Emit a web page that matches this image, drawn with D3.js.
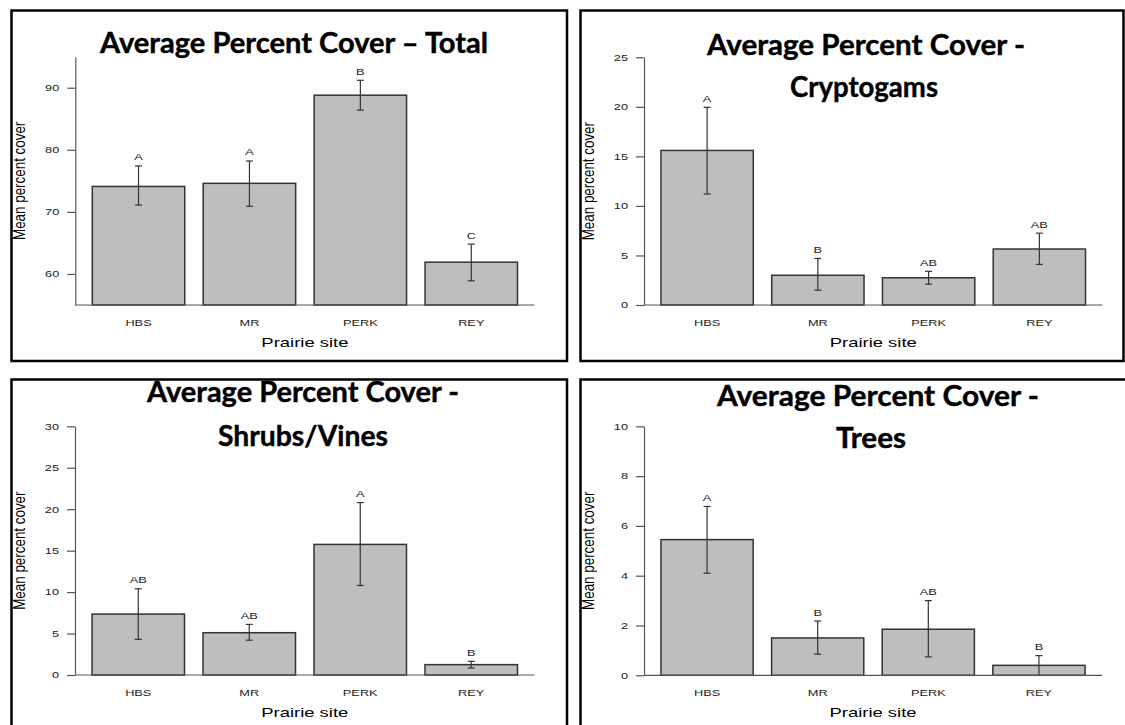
<!DOCTYPE html>
<html><head><meta charset="utf-8">
<script src="https://cdn.jsdelivr.net/npm/d3@7"></script>
<style>
body{margin:0;background:#fff;}
svg{display:block;}
</style></head><body>
<svg id="chart" width="1125" height="725"></svg>
<script>
// ---------------- DATA ----------------
const sites = ["HBS", "MR", "PERK", "REY"];

const totalMean    = [74.1, 74.6, 88.8, 61.9];
const totalUpper   = [77.4, 78.2, 91.2, 64.8];
const totalLower   = [71.1, 70.9, 86.4, 58.9];
const totalLetters = ["A", "A", "B", "C"];
const totalTicks   = [60, 70, 80, 90];

const cryptoMean    = [15.6, 3.0, 2.75, 5.65];
const cryptoUpper   = [19.95, 4.7, 3.4, 7.25];
const cryptoLower   = [11.2, 1.5, 2.1, 4.1];
const cryptoLetters = ["A", "B", "AB", "AB"];
const cryptoTicks   = [0, 5, 10, 15, 20, 25];

const shrubMean    = [7.35, 5.1, 15.75, 1.25];
const shrubUpper   = [10.4, 6.1, 20.8, 1.65];
const shrubLower   = [4.3, 4.2, 10.8, 0.85];
const shrubLetters = ["AB", "AB", "A", "B"];
const shrubTicks   = [0, 5, 10, 15, 20, 25, 30];

const treeMean    = [5.45, 1.5, 1.85, 0.4];
const treeUpper   = [6.78, 2.18, 3.0, 0.79];
const treeLower   = [4.1, 0.85, 0.74, 0.0];
const treeLetters = ["A", "B", "AB", "B"];
const treeTicks   = [0, 2, 4, 6, 8, 10];

const yAxisTitle = "Mean percent cover";
const xAxisTitle = "Prairie site";

const totalTitle  = ["Average Percent Cover \u2013 Total"];
const cryptoTitle = ["Average Percent Cover -", "Cryptogams"];
const shrubTitle  = ["Average Percent Cover -", "Shrubs/Vines"];
const treeTitle   = ["Average Percent Cover -", "Trees"];

// ---------------- LAYOUT ----------------
const S = 1.42;      // horizontal stretch of the R graphics text
const SY = 1.25;     // stretch for rotated y title
const panels = [
  { title: totalTitle, mean: totalMean, upper: totalUpper, lower: totalLower, letters: totalLetters, ticks: totalTicks,
    yDomain: [55, 95], frame: [11.5, 10.5, 567, 361], plot: [75.3, 534.5, 56.7, 305],
    titlePos: [[294, 53, 388]], yTitleX: 24.6 },
  { title: cryptoTitle, mean: cryptoMean, upper: cryptoUpper, lower: cryptoLower, letters: cryptoLetters, ticks: cryptoTicks,
    yDomain: [0, 25], frame: [580.5, 10.5, 1123.5, 361], plot: [644, 1102.5, 57.3, 305],
    titlePos: [[866, 55, 318], [864, 97, 148]], yTitleX: 593.6 },
  { title: shrubTitle, mean: shrubMean, upper: shrubUpper, lower: shrubLower, letters: shrubLetters, ticks: shrubTicks,
    yDomain: [0, 30], frame: [11.5, 379.5, 567, 740], plot: [75, 534.5, 426.3, 675],
    titlePos: [[303, 401.5, 312], [303, 445.5, 170]], yTitleX: 24.6 },
  { title: treeTitle, mean: treeMean, upper: treeUpper, lower: treeLower, letters: treeLetters, ticks: treeTicks,
    yDomain: [0, 10], frame: [580.5, 379.5, 1140, 740], plot: [644, 1102, 426.3, 675.3],
    titlePos: [[878, 405.5, 322], [871, 448, 70]], yTitleX: 593.6 }
];

const svg = d3.select("#chart");
const FONT = "'Liberation Sans', Arial, sans-serif";

panels.forEach(p => {
  const g = svg.append("g");
  const [fx0, fy0, fx1, fy1] = p.frame;
  const [L, R, T, B] = p.plot;

  // frame
  g.append("rect").attr("x", fx0).attr("y", fy0).attr("width", fx1 - fx0).attr("height", fy1 - fy0)
    .attr("fill", "none").attr("stroke", "#000").attr("stroke-width", 2.5);

  // scales (R barplot: bars at 0.2..4.8 units, plot region 0.016..4.984)
  const xu = d3.scaleLinear().domain([0.016, 4.984]).range([L, R]);
  const x = d3.scaleBand().domain(sites).range([xu(0), xu(5)]).paddingInner(1/6).paddingOuter(1/6);
  const y = d3.scaleLinear().domain(p.yDomain).range([B, T]);

  const data = sites.map((s, i) => ({ site: s, mean: p.mean[i], up: p.upper[i], lo: p.lower[i], letter: p.letters[i] }));

  // bars
  g.selectAll("rect.bar").data(data).join("rect").attr("class", "bar")
    .attr("x", d => x(d.site)).attr("width", x.bandwidth())
    .attr("y", d => y(d.mean)).attr("height", d => y(p.yDomain[0]) - y(d.mean))
    .attr("fill", "#bebebe").attr("stroke", "#333").attr("stroke-width", 1.5);

  // error bars
  const eb = g.selectAll("g.err").data(data).join("g").attr("class", "err")
    .attr("transform", d => `translate(${x(d.site) + x.bandwidth() / 2},0)`);
  eb.append("line").attr("x1", 0).attr("x2", 0).attr("y1", d => y(d.up)).attr("y2", d => y(d.lo))
    .attr("stroke", "#333").attr("stroke-width", 1.2);
  eb.append("line").attr("x1", -3.5).attr("x2", 3.5).attr("y1", d => y(d.up)).attr("y2", d => y(d.up))
    .attr("stroke", "#333").attr("stroke-width", 1.2);
  eb.filter(d => d.lo > p.yDomain[0]).append("line").attr("x1", -3.5).attr("x2", 3.5)
    .attr("y1", d => y(d.lo)).attr("y2", d => y(d.lo))
    .attr("stroke", "#333").attr("stroke-width", 1.2);

  // significance letters
  g.selectAll("text.letter").data(data).join("text").attr("class", "letter")
    .attr("transform", d => `translate(${x(d.site) + x.bandwidth() / 2},${y(d.up) - 5.5}) scale(${S},1)`)
    .attr("text-anchor", "middle").attr("font-family", FONT).attr("font-size", 9).attr("fill", "#222")
    .text(d => d.letter);

  // y axis
  const yAxis = d3.axisLeft(y).tickValues(p.ticks).tickSize(8).tickSizeOuter(0).tickPadding(8);
  g.append("g").attr("transform", `translate(${L},0)`).call(yAxis)
    .call(a => a.select(".domain").attr("stroke", "#555").attr("stroke-width", 1.2))
    .call(a => a.selectAll(".tick line").attr("stroke", "#555").attr("stroke-width", 1.2))
    .call(a => a.selectAll(".tick text").attr("x", -16 / S).attr("transform", `scale(${S},1)`)
      .attr("fill", "#222").attr("font-family", FONT).attr("font-size", 9));

  // x axis baseline (box "l")
  g.append("line").attr("x1", L).attr("x2", R).attr("y1", B).attr("y2", B)
    .attr("stroke", "#555").attr("stroke-width", 1.2);

  // x axis category labels
  const xAxis = d3.axisBottom(x).tickSize(0).tickPadding(14.6);
  g.append("g").attr("transform", `translate(0,${B})`).call(xAxis)
    .call(a => a.select(".domain").remove())
    .call(a => a.selectAll(".tick text").attr("transform", `scale(${S},1)`)
      .attr("fill", "#222").attr("font-family", FONT).attr("font-size", 9));

  // axis titles
  g.append("text")
    .attr("transform", `translate(${(L + R) / 2},${B + 42}) scale(${S},1)`)
    .attr("text-anchor", "middle").attr("font-family", FONT).attr("font-size", 13).attr("fill", "#000")
    .text(xAxisTitle);
  g.append("text")
    .attr("transform", `translate(${p.yTitleX},${(T + B) / 2}) scale(${SY},1) rotate(-90)`)
    .attr("text-anchor", "middle").attr("font-family", FONT).attr("font-size", 13.4).attr("fill", "#000")
    .text(yAxisTitle);

  // chart title (Calibri-like bold)
  p.title.forEach((line, i) => {
    const [tx, ty, tw] = p.titlePos[i];
    g.append("text").attr("x", tx).attr("y", ty)
      .attr("text-anchor", "middle").attr("font-family", "Lato, 'Open Sans', sans-serif")
      .attr("font-weight", 700).attr("font-size", 28).attr("fill", "#000")
      .attr("stroke", "#000").attr("stroke-width", 0.4)
      .attr("textLength", tw).attr("lengthAdjust", "spacingAndGlyphs")
      .text(line);
  });
});
</script>
</body></html>
